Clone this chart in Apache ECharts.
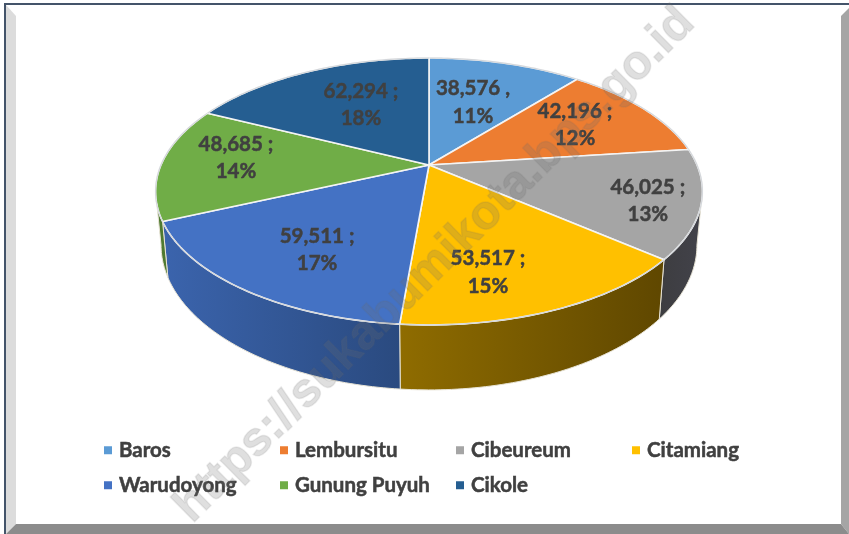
<!DOCTYPE html>
<html>
<head>
<meta charset="utf-8">
<style>html,body{margin:0;padding:0;background:#fff}#c{width:849px;height:534px}</style>
<script src="https://cdn.jsdelivr.net/npm/echarts@6/dist/echarts.min.js"></script>
</head>
<body>
<div id="c"></div>
<script>
const categories = ['Baros','Lembursitu','Cibeureum','Citamiang','Warudoyong','Gunung Puyuh','Cikole'];
const values = [38576,42196,46025,53517,59511,48685,62294];
const separators = [',',';',';',';',';',';',';'];
const topColors = ['#5b9bd5','#ed7d31','#a5a5a5','#ffc000','#4472c4','#70ad47','#255e91'];
const sideLeft = ['#3b6d99','#9a5120','#3d3d40','#8f6c00','#3b64ad','#4f7a30','#183d5f'];
const sideRight = ['#3b6d99','#9a5120','#42424a','#5f4700','#2a4a7f','#4f7a30','#183d5f'];
const labelAngleShift = [-1.2,-1.05,2.5,7.7,-3.4,3.2,3.5];
const labelRadius = [0.569,0.669,0.818,0.743,0.693,0.73,0.587];
const legendColumns = [104,280,456,632,104,280,456];
const legendRows = [0,0,0,0,1,1,1];

const total = values.reduce((a,b)=>a+b,0);
const cx=429, cy=165, A=268, B=128.2, K=0.1984;
const rad = d => d*Math.PI/180;
function disc(u,v){ const w=1+K*v; return [cx+A*u/w, cy-B*v/w]; }
function rim(deg){ return disc(Math.sin(rad(deg)),Math.cos(rad(deg))); }
function lower(p){ return [cx+(p[0]-cx)*0.98, 245+(p[1]-191.5)*1.086]; }
function arc(a,b){ const pts=[]; const n=Math.max(2,Math.ceil(Math.abs(b-a))); for(let i=0;i<=n;i++) pts.push(rim(a+(b-a)*i/n)); return pts; }
const VIS_A=101.5, VIS_B=258.5;
const font='700 20.5px Lato, Carlito, sans-serif';

function makeSeries(i){
  const startVal = values.slice(0,i).reduce((a,b)=>a+b,0);
  return {
    type:'custom', name:categories[i], coordinateSystem:'none', animation:false, silent:true,
    itemStyle:{color:topColors[i]},
    data:[[values[i]]],
    renderItem(params,api){
      const v=api.value(0);
      const a=startVal/total*360, b=a+v/total*360;
      const kids=[];
      const wa=Math.max(a,VIS_A), wb=Math.min(b,VIS_B);
      if(wb>wa){
        const t=arc(wa,wb), bot=t.map(lower).reverse();
        kids.push({type:'polygon',shape:{points:t.concat(bot)},
          style:{fill:{type:'linear',x:0,y:0,x2:1,y2:0,colorStops:[{offset:0,color:sideLeft[i]},{offset:1,color:sideRight[i]}]},stroke:'#e8e4d6',lineWidth:1}});
      }
      const edge=arc(a,b);
      kids.push({type:'polygon',shape:{points:[[cx,cy]].concat(edge)},style:{fill:topColors[i],stroke:'#f4f4f4',lineWidth:1.6,lineJoin:'round'}});
      kids.push({type:'polyline',shape:{points:edge},style:{fill:null,stroke:'#d4d7db',lineWidth:1.2}});
      const m=(a+b)/2+labelAngleShift[i], r=labelRadius[i];
      const p=disc(r*Math.sin(rad(m)),r*Math.cos(rad(m)));
      const pct=Math.round(v/total*100);
      kids.push({type:'text',z2:50,x:p[0],y:p[1],style:{
        text:v.toLocaleString('en-US')+' '+separators[i]+'\n'+pct+'%',
        font:font,lineHeight:27.5,fill:'#404040',stroke:'#404040',lineWidth:0.5,textAlign:'center',textVerticalAlign:'middle'}});
      return {type:'group',children:kids};
    }
  };
}

const frame=[
  {pts:[[4,3],[849,3],[849,5],[6,5],[6,534],[4,534]],fill:'#44546a'},
  {pts:[[6,5],[16,16],[16,524],[6,534]],fill:'#dcdcdc'},
  {pts:[[841,16],[849,8],[849,534],[841,524]],fill:'#a5a5a5'},
  {pts:[[16,524],[841,524],[849,534],[6,534]],fill:'#8c8c8c'}
];
const chart=echarts.init(document.getElementById('c'),null,{renderer:'canvas'});
chart.setOption({
  backgroundColor:'#ffffff',
  animation:false,
  legend:categories.map((c,i)=>({
    data:[c],show:true,selectedMode:false,left:legendColumns[i],top:439.5+legendRows[i]*35,padding:0,
    icon:'rect',itemWidth:8,itemHeight:8,
    textStyle:{fontFamily:'Lato, Carlito, sans-serif',fontWeight:700,fontSize:20.5,color:'#404040',textBorderColor:'#404040',textBorderWidth:0.5,padding:[0,0,0,2]}
  })),
  series:categories.map((c,i)=>makeSeries(i)),
  graphic:{elements:frame.map(f=>({type:'polygon',silent:true,z:0,shape:{points:f.pts},style:{fill:f.fill}})).concat([
    {type:'text',silent:true,z:100,x:435,y:265,rotation:rad(44.7),
     style:{text:'https://sukabumikota.bps.go.id',font:'700 48px "Liberation Sans", Arial, sans-serif',fill:'rgba(110,110,110,0.22)',stroke:'rgba(110,110,110,0.12)',lineWidth:1.5,textAlign:'center',textVerticalAlign:'middle'}}
  ])}
});
</script>
</body>
</html>
